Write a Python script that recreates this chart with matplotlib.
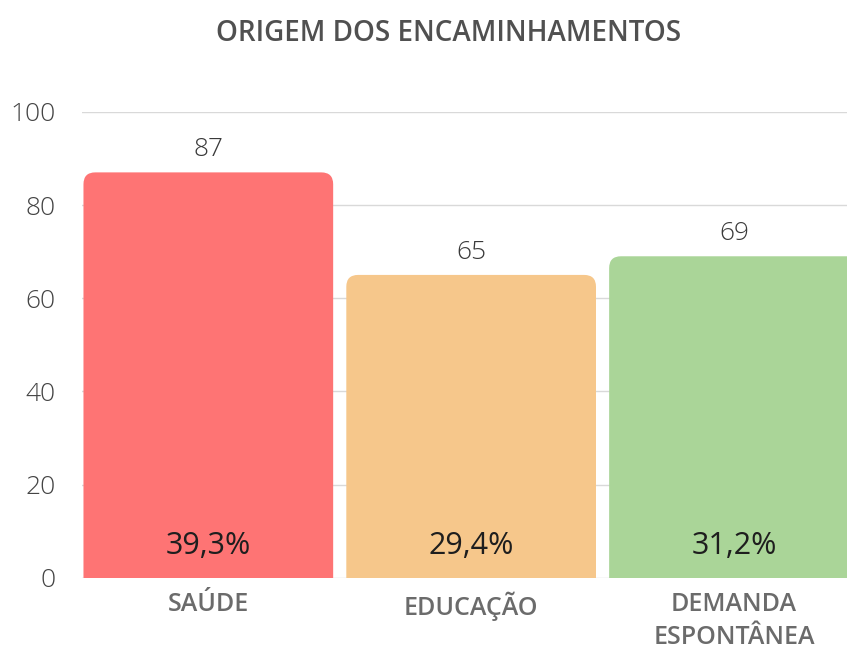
import matplotlib.pyplot as plt
from matplotlib.patches import FancyBboxPatch

# dados do gráfico
categorias = ['SAÚDE', 'EDUCAÇÃO', 'DEMANDA\nESPONTÂNEA']
encaminhamentos = [87, 65, 69]
percentuais = ['39,3%', '29,4%', '31,2%']
cores = ['#FE7474', '#F6C78B', '#AAD598']
yticks = [0, 20, 40, 60, 80, 100]

plt.rcParams['font.family'] = ['Open Sans', 'DejaVu Sans']

fig = plt.figure(figsize=(8.47, 6.5), dpi=100)
ax = fig.add_axes([0.097, 0.111, 0.903, 0.717])

x = range(len(categorias))
largura = 0.95
bars = ax.bar(x, encaminhamentos, width=largura, color='none')

ax.set_xlim(-0.48, 2.43)
ax.set_ylim(0, 100)

# barras com cantos arredondados no topo
raio_x = 0.045
aspecto = (263 / 4.66)
for bar, cor in zip(bars, cores):
    extra = raio_x * aspecto
    p = FancyBboxPatch((bar.get_x(), -extra), bar.get_width(),
                       bar.get_height() + extra,
                       boxstyle=f'round,pad=0,rounding_size={raio_x}',
                       mutation_aspect=aspecto,
                       facecolor=cor, edgecolor='none', zorder=2)
    ax.add_patch(p)

# rótulos de valor e percentuais
for i, (v, pc) in enumerate(zip(encaminhamentos, percentuais)):
    ax.text(i, v + 2.2, f'{v}', ha='center', va='bottom',
            fontsize=19, fontweight='light', color='#3a3a3a')
    ax.text(i, 6.8, pc, ha='center', va='center',
            fontsize=22, color='#1e1e1e', zorder=3)

ax.set_yticks(yticks)
ax.set_yticklabels([str(t) for t in yticks], fontsize=19,
                   fontweight='light', color='#444444')
ax.set_xticks(list(x))
ax.set_xticklabels(categorias, fontsize=18, fontweight='semibold',
                   color='#6b6b6b', linespacing=1.45)
ax.tick_params(axis='both', length=0)
ax.tick_params(axis='y', pad=19)
ax.tick_params(axis='x', pad=10)

ax.grid(axis='y', color='#d9d9d9', linewidth=1, zorder=0)
ax.set_axisbelow(True)
for s in ax.spines.values():
    s.set_visible(False)

fig.text(0.53, 0.949, 'ORIGEM DOS ENCAMINHAMENTOS', ha='center', va='center',
         fontsize=20, color='#505050', fontweight='semibold')

plt.savefig('out.png', dpi=100)
